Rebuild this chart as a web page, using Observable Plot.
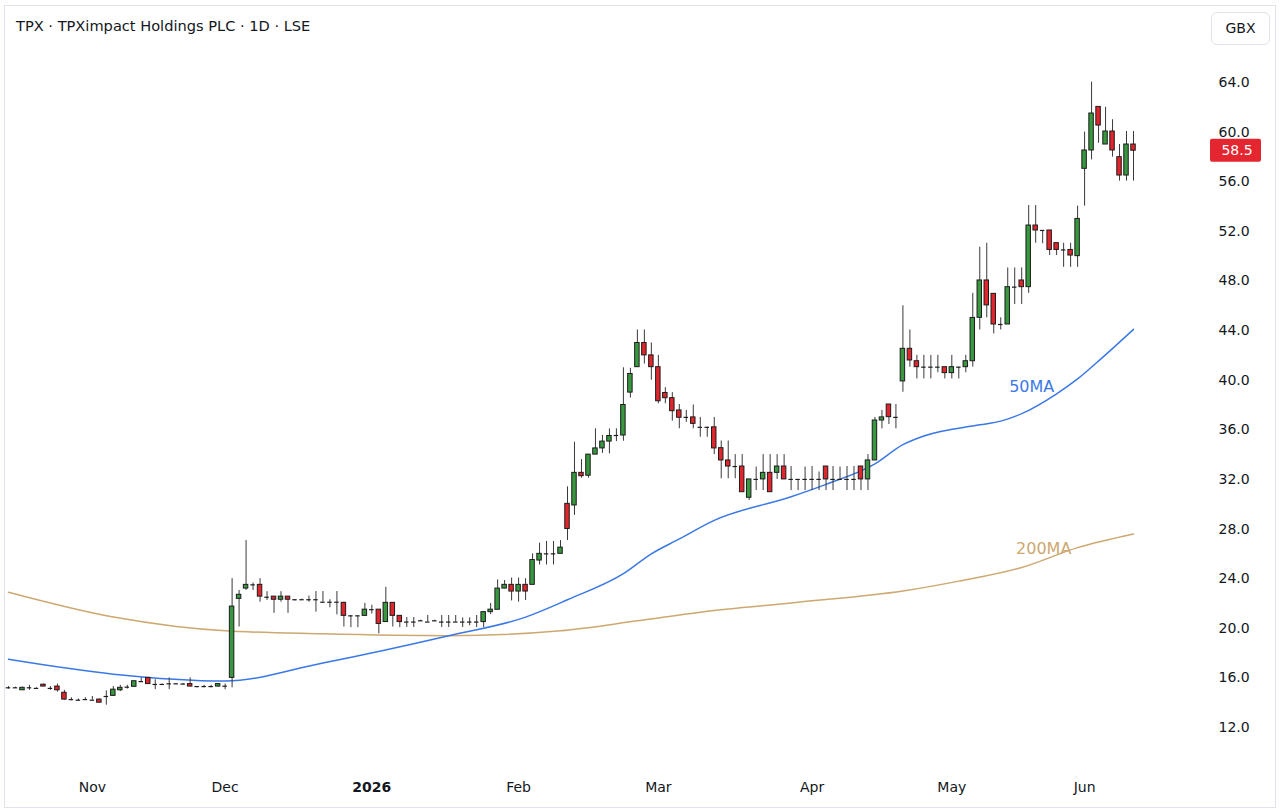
<!DOCTYPE html>
<html>
<head>
<meta charset="utf-8">
<script src="https://cdn.jsdelivr.net/npm/d3@7"></script>
<script src="https://cdn.jsdelivr.net/npm/@observablehq/plot@0.6"></script>
<style>
  body { margin: 0; background: #fff; font-family: "DejaVu Sans", sans-serif; }
  #wrap { position: relative; width: 1282px; height: 810px; overflow: hidden; background: #fff; }
  #frame { position: absolute; left: 4px; top: 5px; width: 1272px; height: 803px; border: 1px solid #e0e3eb; box-sizing: border-box; pointer-events: none; }
  #title { position: absolute; left: 16px; top: 17px; font-size: 14.6px; line-height: 17px; color: #131722; white-space: nowrap; }
  #cur { position: absolute; left: 1211px; top: 12px; width: 59px; height: 33px; border: 1px solid #e0e3eb; border-radius: 6px; box-sizing: border-box; font-size: 14px; line-height: 31px; text-align: center; color: #131722; }
  #chart { position: absolute; left: 0; top: 50px; }
</style>
</head>
<body>
<div id="wrap">
  <div id="frame"></div>
  <div id="title">TPX · TPXimpact Holdings PLC · 1D · LSE</div>
  <div id="cur">GBX</div>
  <div id="chart"></div>
</div>
<script>
// ---- Daily OHLC (GBX), one value per trading bar ----
const open = [
15.2,15.2,15.0,15.2,15.15,15.45,15.15,15.3,14.8,14.25,14.2,14.25,14.2,14.25,14.5,14.55,15.0,15.25,15.28,15.7,
16.0,15.47,15.47,15.52,15.52,15.5,15.5,15.3,15.3,15.3,15.3,15.33,16.0,22.37,23.2,23.5,23.5,22.5,22.55,22.3,
22.55,22.3,22.3,22.3,22.3,22.1,22.1,22.1,22.05,21.0,21.0,21.0,21.5,21.5,20.5,22.05,21.0,20.5,20.5,20.6,
20.5,20.6,20.5,20.5,20.5,20.5,20.5,20.5,20.5,21.3,21.49,23.2,23.5,22.96,23.5,23.5,25.46,26.0,26.0,26.0,
30.03,29.9,32.53,32.3,34.0,34.5,35.05,35.54,35.54,39.0,41.05,43.0,42.0,41.05,38.97,38.55,37.56,37.0,37.0,36.2,
36.2,36.2,34.52,33.53,33.04,33.04,30.52,32.0,32.0,32.53,32.53,33.04,32.0,32.0,32.0,32.0,32.0,33.04,32.0,32.0,
32.0,32.0,33.04,32.0,33.53,36.75,38.04,37.0,39.9,42.53,41.53,41.05,41.05,41.05,41.05,40.57,41.05,41.05,41.53,45.03,
48.04,46.96,44.49,44.49,47.5,48.04,47.5,52.47,52.07,52.07,51.05,50.5,50.5,50.0,57.04,58.52,62.03,59.0,60.05,57.98,
56.5,59.0];
const high = [
15.3,15.25,15.25,15.4,15.2,15.5,15.3,15.5,15.0,14.4,14.3,14.4,14.5,14.3,14.95,15.3,15.4,15.4,15.75,16.0,
16.0,15.85,15.5,16.0,15.55,15.55,16.0,15.3,15.4,15.4,15.55,15.5,24.0,23.05,27.07,23.65,24.0,22.95,22.55,22.95,
22.55,22.3,22.35,22.6,22.96,22.96,22.3,22.96,22.1,21.0,21.0,22.0,21.85,21.5,23.3,22.05,21.0,20.87,20.87,20.65,
21.03,20.65,21.03,21.03,21.03,20.84,20.84,21.03,21.3,22.0,23.9,23.85,24.05,24.05,24.0,26.0,26.86,27.0,27.0,27.07,
31.4,35.0,33.6,34.0,36.08,35.55,36.07,36.08,41.0,40.96,44.05,44.05,43.0,42.0,39.4,39.0,38.04,37.56,38.0,37.0,
36.2,37.0,35.1,35.1,34.0,34.0,32.0,33.0,34.0,34.0,34.0,34.0,33.04,32.0,33.0,33.04,32.6,33.04,33.04,33.0,
33.04,33.04,33.04,34.0,37.0,37.56,38.04,38.04,46.0,44.05,42.0,42.0,42.0,42.0,41.05,42.0,41.05,42.0,47.0,50.72,
51.04,46.96,45.03,49.05,49.05,49.05,54.08,54.08,52.07,52.07,51.05,51.04,51.04,54.03,60.0,64.03,62.03,62.0,61.0,59.0,
60.05,60.05];
const low = [
15.1,15.15,15.0,15.0,15.1,15.3,15.0,14.85,14.2,14.15,14.15,14.2,14.2,14.0,13.8,14.55,14.9,15.1,15.28,15.7,
15.49,15.05,15.45,15.05,15.5,15.45,15.28,15.2,15.2,15.2,15.25,15.05,15.2,20.1,23.05,23.05,22.1,22.25,21.2,22.1,
21.2,22.2,22.25,22.1,21.3,22.1,21.65,21.08,20.1,20.05,20.05,21.0,21.15,19.55,20.5,20.1,20.05,20.06,20.06,20.55,
20.5,20.55,20.06,20.06,20.5,20.06,20.2,20.06,20.05,21.1,21.49,23.18,22.2,22.1,22.24,23.5,25.1,25.1,25.1,26.0,
27.07,29.1,32.1,32.1,34.0,34.1,34.06,35.05,35.08,38.57,41.05,41.3,40.0,38.1,38.1,36.7,36.08,36.6,36.08,35.4,
35.4,34.0,32.05,32.05,32.05,30.97,30.3,31.1,31.1,30.97,32.0,32.0,31.1,31.1,31.1,31.1,31.1,31.1,31.1,32.0,
31.1,31.1,31.1,31.1,33.53,36.08,36.43,36.08,39.03,41.05,40.1,40.1,40.1,40.6,40.1,40.1,40.1,40.6,41.05,44.05,
45.03,43.73,44.05,44.49,46.1,46.1,47.0,51.04,51.0,50.05,50.05,49.1,49.1,49.1,54.03,57.76,59.1,59.0,57.98,56.05,
56.05,56.05];
const close = [
15.2,15.2,15.2,15.2,15.15,15.3,15.15,15.0,14.25,14.25,14.2,14.25,14.2,14.0,14.5,15.05,15.2,15.25,15.73,15.7,
15.5,15.47,15.47,15.52,15.52,15.5,15.3,15.3,15.3,15.3,15.5,15.33,21.75,22.7,23.5,23.5,22.55,22.5,22.3,22.55,
22.3,22.3,22.3,22.3,22.3,22.1,22.1,22.1,21.0,21.0,21.0,21.5,21.5,20.35,22.05,21.0,20.5,20.5,20.5,20.6,
20.5,20.6,20.5,20.5,20.5,20.5,20.5,20.5,21.3,21.5,23.2,23.5,22.96,23.5,22.96,25.5,26.0,26.0,26.0,26.5,
28.0,32.53,32.26,34.0,34.5,35.05,35.5,35.54,38.0,40.5,43.0,42.0,41.05,38.3,38.55,37.5,36.97,37.0,36.48,36.2,
36.2,34.5,33.53,33.04,33.04,30.97,32.0,32.0,32.53,30.97,33.04,32.0,32.0,32.0,32.0,32.0,32.0,32.0,32.0,32.0,
32.0,32.0,32.0,33.53,36.75,37.0,37.02,37.0,42.53,41.59,41.05,41.05,41.05,41.05,40.57,41.05,41.05,41.53,45.02,48.04,
46.03,44.49,44.49,47.5,47.5,47.5,52.47,52.07,52.07,50.5,50.5,50.5,50.05,53.0,58.52,61.5,60.53,60.05,58.52,56.5,
59.0,58.5];

// ---- Moving averages (bar index, value) ----
const ma50Idx = [0, 15, 31, 45, 63, 74, 80, 88, 92, 96, 101, 112, 117, 124, 128, 131, 139, 142, 145, 150, 153, 156.5, 161];
const ma50Val = [17.5, 16.3, 15.75, 17.2, 19.4, 20.9, 22.3, 24.4, 26.0, 27.2, 28.7, 30.6, 31.6, 33.25, 34.8, 35.5, 36.4, 36.7, 37.3, 38.9, 40.1, 41.8, 44.1];
const ma200Idx = [0, 15, 24, 31, 45, 63, 79, 90, 99, 113, 128, 136, 145, 153, 161];
const ma200Val = [22.9, 20.9, 20.15, 19.8, 19.55, 19.4, 19.8, 20.6, 21.3, 22.1, 23.0, 23.8, 24.9, 26.5, 27.6];

// ---- Axis ticks ----
const monthLabels = ["Nov", "Dec", "2026", "Feb", "Mar", "Apr", "May", "Jun"];
const monthIdx = [12, 31, 52, 73, 93, 115, 135, 154];
const yTicks = [12, 16, 20, 24, 28, 32, 36, 40, 44, 48, 52, 56, 60, 64];

const UP = "#38973f", DOWN = "#e1252d", BLUE = "#3b78e7", TAN = "#cda870";

const N = close.length;
const bars = d3.range(N).map(i => ({i, o: open[i], h: high[i], l: low[i], c: close[i]}));
const ma50 = ma50Idx.map((i, k) => ({i, v: ma50Val[k]}));
const ma200 = ma200Idx.map((i, k) => ({i, v: ma200Val[k]}));
const labelOf = d => monthLabels[monthIdx.indexOf(d)];
const W = 0.32;

const chart = Plot.plot({
  width: 1282,
  height: 760,
  marginLeft: 0,
  marginRight: 70,
  marginTop: 0,
  marginBottom: 31,
  style: {background: "transparent", fontFamily: "DejaVu Sans, sans-serif", fontSize: "14px", color: "#131722", overflow: "visible"},
  x: {domain: [0, N - 1], range: [8, 1133], label: null},
  y: {domain: [12, 64], range: [677, 32], label: null},
  marks: [
    Plot.line(ma200, {x: "i", y: "v", stroke: TAN, strokeWidth: 1.5, curve: "monotone-x"}),
    Plot.line(ma50, {x: "i", y: "v", stroke: BLUE, strokeWidth: 1.5, curve: "monotone-x"}),
    Plot.ruleX(bars, {x: "i", y1: "l", y2: "h", stroke: "#3a3a3a", strokeWidth: 1}),
    Plot.rect(bars.filter(d => d.c > d.o), {x1: d => d.i - W, x2: d => d.i + W, y1: "o", y2: "c", fill: UP, stroke: "#1c1c1c", strokeWidth: 1}),
    Plot.rect(bars.filter(d => d.c < d.o), {x1: d => d.i - W, x2: d => d.i + W, y1: "c", y2: "o", fill: DOWN, stroke: "#1c1c1c", strokeWidth: 1}),
    Plot.ruleY(bars.filter(d => d.c === d.o), {y: "c", x1: d => d.i - W, x2: d => d.i + W, stroke: "#1c1c1c", strokeWidth: 1.2}),
    Plot.text(ma50.filter(d => d.i === 145), {x: "i", y: "v", text: () => "50MA", dx: 10, dy: -27, fill: BLUE, fontSize: 16}),
    Plot.text(ma200.filter(d => d.i === 145), {x: "i", y: "v", text: () => "200MA", dx: 22, dy: -19, fill: TAN, fontSize: 16}),
    Plot.axisY(yTicks, {anchor: "right", label: null, tickSize: 0, tickPadding: 6, tickFormat: d3.format(".1f"), fill: "#131722", fontSize: 14}),
    Plot.axisX(monthIdx.filter(d => labelOf(d) !== "2026"), {label: null, tickSize: 0, tickPadding: 3, tickFormat: labelOf, fill: "#131722", fontSize: 14}),
    Plot.axisX(monthIdx.filter(d => labelOf(d) === "2026"), {label: null, tickSize: 0, tickPadding: 3, tickFormat: labelOf, fill: "#131722", fontSize: 14, fontWeight: "bold"})
  ]
});

// current price tag on the price scale
const last = close[N - 1];
const yPix = chart.scale("y").apply(last);
const svg = d3.select(chart);
const tag = svg.append("g");
tag.append("rect").attr("x", 1210).attr("y", yPix - 11.5).attr("width", 51).attr("height", 23).attr("rx", 2).attr("fill", "#e3262f");
tag.append("text").attr("x", 1237).attr("y", yPix).attr("dy", "0.35em").attr("text-anchor", "middle")
  .attr("fill", "#fff").attr("font-size", 14).attr("font-family", "DejaVu Sans, sans-serif").text(last.toFixed(1));

document.getElementById("chart").appendChild(chart);
</script>
</body>
</html>
